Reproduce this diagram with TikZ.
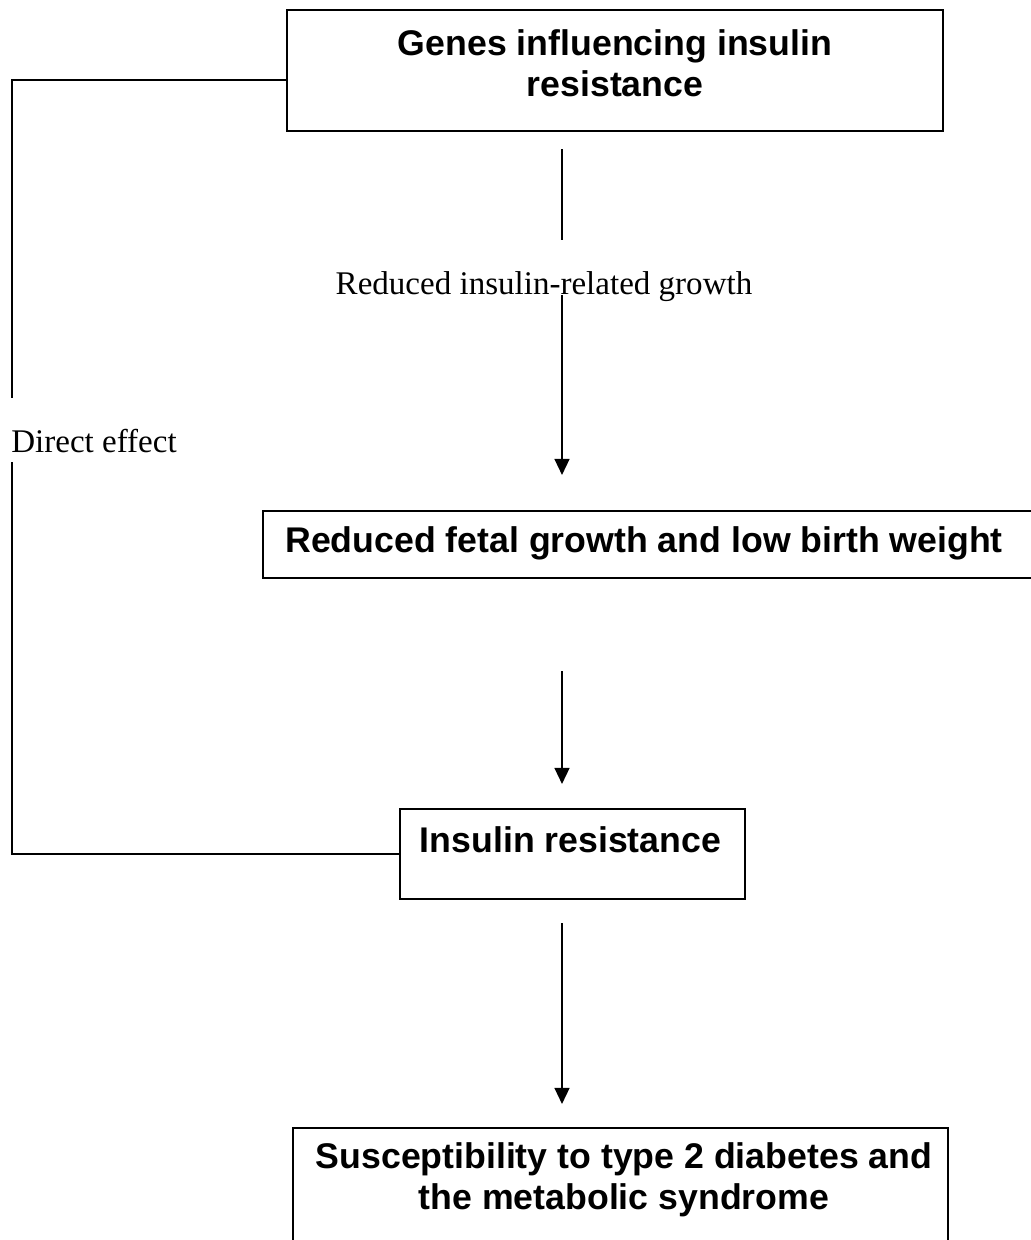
\documentclass[tikz,border=0pt]{standalone}
\usepackage{fontspec}
\setmainfont{Liberation Serif}
\setsansfont{Liberation Sans}
\usetikzlibrary{arrows.meta}
\tikzset{
  box/.style={draw, line width=1.2pt, inner sep=0pt},
  boxtext/.style={font=\sffamily\bfseries\fontsize{20.3}{23.3}\selectfont, align=center, inner sep=0pt},
  note/.style={font=\fontsize{18.8}{22}\selectfont, inner sep=0pt},
  link/.style={line width=1.1pt},
  flow/.style={line width=0.8pt, -{Triangle[length=0.32cm,width=0.3cm]}}
}
\begin{document}
\begin{tikzpicture}[scale=1]
\useasboundingbox (0,0) rectangle (20.6,-24.8);
\coordinate (spine) at (11.24,0);
% Boxes
\node[box, minimum width=13.12cm, minimum height=2.42cm] (genes) at (12.3,-1.41) {};
\node[boxtext] (genes-t) at (12.3,-1.27) {Genes influencing insulin\\resistance};
\node[box, minimum width=15.64cm, minimum height=1.34cm] (fetal) at (13.08,-10.89) {};
\node[boxtext, anchor=west] (fetal-t) at (5.7,-10.86) {Reduced fetal growth and low birth weight};
\node[box, minimum width=6.9cm, minimum height=1.8cm] (ir) at (11.45,-17.08) {};
\node[boxtext] (ir-t) at (11.41,-16.8) {Insulin resistance};
\node[box, minimum width=13.1cm, minimum height=2.64cm] (susc) at (12.41,-23.88) {};
\node[boxtext] (susc-t) at (12.48,-23.6) {Susceptibility to type 2 diabetes and\\the metabolic syndrome};
% Labels
\node[note] (growth) at (10.88,-5.74) {Reduced insulin-related growth};
\node[note, anchor=west] (direct) at (0.22,-8.82) {Direct effect};
% Main chain
\draw[link, shorten <=0.34cm, shorten >=0.64cm] (genes.south -| spine) -- (growth.north -| spine);
\draw[flow, shorten >=0.7cm] (growth.base -| spine) -- (fetal.north -| spine);
\draw[flow, shorten <=1.84cm, shorten >=0.48cm] (fetal.south -| spine) -- (ir.north -| spine);
\draw[flow, shorten <=0.46cm, shorten >=0.46cm] (ir.south -| spine) -- (susc.north -| spine);
% Direct effect path
\draw[link] ([yshift=-0.19cm]genes.west) -| ([xshift=0.02cm,yshift=0.86cm]direct.west);
\draw[link] ([xshift=0.02cm,yshift=-0.42cm]direct.west) |- (ir.west);
\end{tikzpicture}
\end{document}
